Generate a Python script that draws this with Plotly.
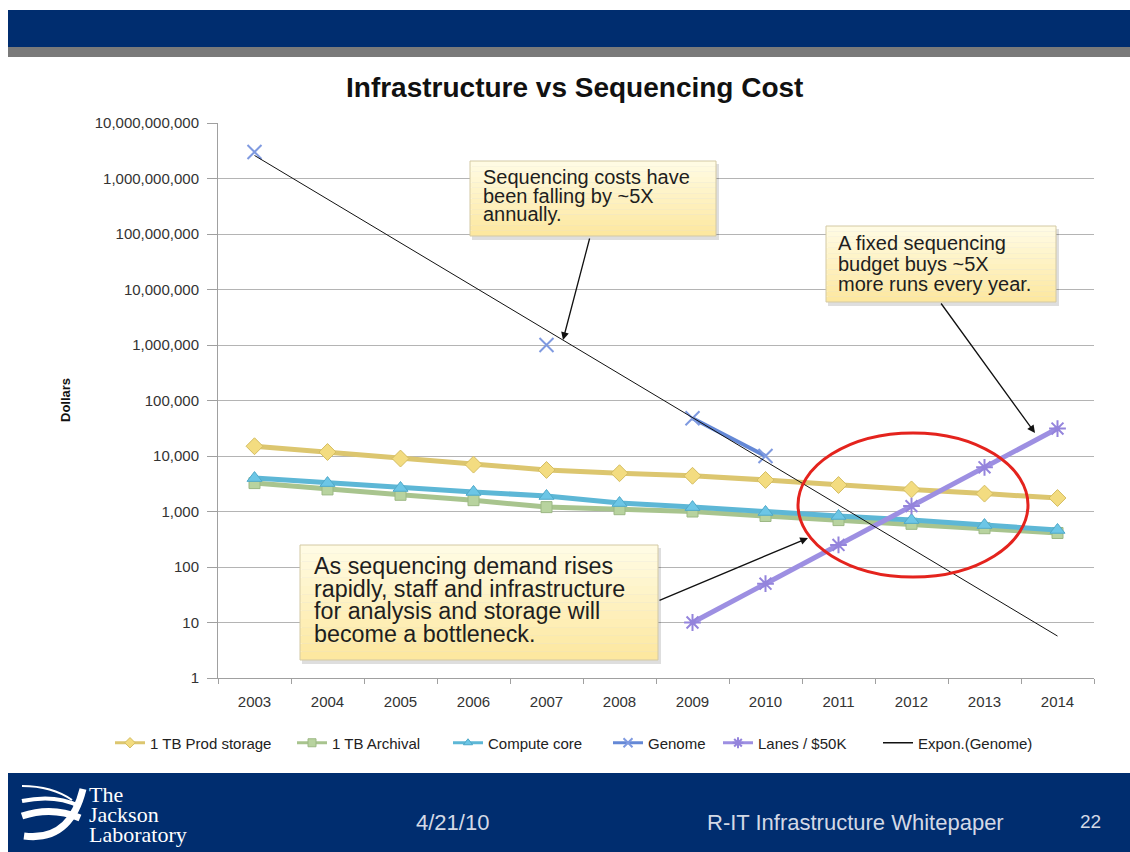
import plotly.graph_objects as go

# ---------------- data ----------------
years = ["2003", "2004", "2005", "2006", "2007", "2008", "2009", "2010", "2011", "2012", "2013", "2014"]
prod_storage = [15000, 11800, 9000, 7000, 5600, 4900, 4400, 3700, 3000, 2500, 2100, 1750]
archival = [3250, 2500, 2000, 1600, 1200, 1100, 1000, 830, 700, 600, 500, 410]
compute_core = [4000, 3250, 2650, 2250, 1900, 1420, 1200, 980, 830, 700, 570, 465]
genome = [3.0e9, None, None, None, 1.0e6, None, 48000, 10000, None, None, None, None]
lanes = [None, None, None, None, None, None, 10, 50, 250, 1250, 6250, 31250]
trend_years = ["2003", "2014"]
trend_values = [2.6e9, 5.7]
y_ticks = [1, 10, 100, 1000, 10000, 100000, 1000000, 10000000, 100000000, 1000000000, 10000000000]
y_ticktext = [f"{v:,}" for v in y_ticks]

# ---------------- geometry helpers (page pixel -> paper) ----------------
WID, HEI = 1130, 852
L, R, T, B = 218, 1094, 123, 678   # plot area in page pixels
PW, PH = R - L, B - T


def px(x):
    return (x - L) / PW


def py(y):
    return (B - y) / PH


FONT = "Liberation Sans, Arial, Helvetica, sans-serif"

series = [
    # name, values, line colour, line width, marker symbol, marker size, marker fill, marker edge
    ("1 TB Prod storage", prod_storage, "#dcc66f", 5, "diamond", 13, "#f3dc80", "#d4bd62", 1),
    ("1 TB Archival", archival, "#a8c48e", 5, "square", 11, "#b8d39f", "#9cb884", 1),
    ("Compute core", compute_core, "#5db7d6", 5, "triangle-up", 13, "#6cc6e6", "#4fa9c9", 1),
    ("Genome", genome, "#6488d6", 4, "x-thin-open", 14, "#7f9ae0", "#7f9ae0", 2),
    ("Lanes / $50K", lanes, "#9d8fe2", 5, "asterisk-open", 14, "#9484dc", "#9484dc", 2),
]

fig = go.Figure()
for i, (name, vals, lc, lw, sym, ms, mf, me, mew) in enumerate(series):
    fig.add_trace(go.Scatter(
        x=years, y=vals, name=name, mode="lines+markers", connectgaps=False, showlegend=False,
        line=dict(color=lc, width=lw),
        marker=dict(symbol=sym, size=ms, color=mf, line=dict(color=me, width=mew)),
    ))
fig.add_trace(go.Scatter(
    x=trend_years, y=trend_values, name="Expon.(Genome)", mode="lines", showlegend=False,
    line=dict(color="#111111", width=1),
))

# legend entries (compact symbols, as in the reference legend)
for i, (name, vals, lc, lw, sym, ms, mf, me, mew) in enumerate(series):
    key = "legend" if i == 0 else f"legend{i + 1}"
    fig.add_trace(go.Scatter(
        x=[None], y=[None], name=name, mode="lines+markers", legend=key, showlegend=True,
        line=dict(color=lc, width=3),
        marker=dict(symbol=sym, size=8 if mew == 1 else 9, color=mf, line=dict(color=me, width=mew)),
    ))
fig.add_trace(go.Scatter(
    x=[None], y=[None], name="Expon.(Genome)", mode="lines", legend="legend6", showlegend=True,
    line=dict(color="#111111", width=1.5),
))

shapes = []
annotations = []

# top banner
shapes.append(dict(type="rect", xref="paper", yref="paper", x0=px(8), x1=px(1135), y0=py(10), y1=py(47),
                   fillcolor="#002d6f", line=dict(width=0), layer="below"))
shapes.append(dict(type="rect", xref="paper", yref="paper", x0=px(8), x1=px(1135), y0=py(47), y1=py(57),
                   fillcolor="#7a7a7a", line=dict(width=0), layer="below"))
# footer banner
shapes.append(dict(type="rect", xref="paper", yref="paper", x0=px(8), x1=px(1135), y0=py(773), y1=py(860),
                   fillcolor="#002d6f", line=dict(width=0), layer="below"))


def lerp_color(c1, c2, t):
    a = [int(c1[i:i + 2], 16) for i in (1, 3, 5)]
    b = [int(c2[i:i + 2], 16) for i in (1, 3, 5)]
    return "#" + "".join(f"{int(round(a[k] + (b[k] - a[k]) * t)):02x}" for k in range(3))


def callout(x0, y0, x1, y1, lines, fsize, tx, ty0, dy):
    shapes.append(dict(type="rect", xref="paper", yref="paper", x0=px(x0 + 2), x1=px(x1 + 3),
                       y0=py(y1 + 4), y1=py(y0 + 3), fillcolor="rgba(0,0,0,0.13)", line=dict(width=0)))
    n = 14
    for i in range(n):
        ya = y0 + (y1 - y0) * i / n
        yb = y0 + (y1 - y0) * (i + 1) / n
        shapes.append(dict(type="rect", xref="paper", yref="paper", x0=px(x0), x1=px(x1),
                           y0=py(yb), y1=py(ya),
                           fillcolor=lerp_color("#fffbe3", "#fde8a0", i / (n - 1)), line=dict(width=0)))
    shapes.append(dict(type="rect", xref="paper", yref="paper", x0=px(x0), x1=px(x1), y0=py(y1), y1=py(y0),
                       fillcolor="rgba(0,0,0,0)", line=dict(color="#d3c9a4", width=1)))
    for k, t in enumerate(lines):
        annotations.append(dict(xref="paper", yref="paper", x=px(tx), y=py(ty0 + k * dy), text=t,
                                showarrow=False, xanchor="left", yanchor="middle",
                                font=dict(family=FONT, size=fsize, color="#1e1e1e")))


def arrow(tail, head):
    annotations.append(dict(xref="paper", yref="paper", x=px(head[0]), y=py(head[1]), text="",
                            showarrow=True, axref="pixel", ayref="pixel",
                            ax=tail[0] - head[0], ay=tail[1] - head[1],
                            arrowhead=2, arrowsize=1.2, arrowwidth=1.3, arrowcolor="#111111"))


callout(470, 161, 716, 236, ["Sequencing costs have", "been falling by ~5X", "annually."], 20, 481, 177, 18.5)
callout(826, 226, 1056, 302, ["A fixed sequencing", "budget buys ~5X", "more runs every year."], 20, 836, 243, 20.5)
callout(300, 545, 658, 660, ["As sequencing demand rises", "rapidly, staff and infrastructure",
                             "for analysis and storage will", "become a bottleneck."], 23.3, 312, 566, 22.5)

arrow((590, 237), (563, 340))
arrow((940, 302), (1035, 433))
arrow((658, 601), (808, 538))

# red ellipse
shapes.append(dict(type="circle", xref="paper", yref="paper", x0=px(798), x1=px(1028), y0=py(577), y1=py(433),
                   line=dict(color="#e4231d", width=3), fillcolor="rgba(0,0,0,0)"))


# logo swoosh
def path_pts(pts):
    s = f"M {px(pts[0][0])},{py(pts[0][1])}"
    s += f" Q {px(pts[1][0])},{py(pts[1][1])} {px(pts[2][0])},{py(pts[2][1])}"
    return s


for pts, w in [
    ([(22, 786), (52, 786), (72, 800)], 2),
    ([(22, 801), (55, 794), (79, 806)], 4),
    ([(22, 816), (52, 806), (80, 818)], 7),
    ([(24, 836), (70, 842), (83, 789)], 7),
]:
    shapes.append(dict(type="path", xref="paper", yref="paper", path=path_pts(pts),
                       line=dict(color="white", width=w)))

for t, yy in [("The", 794), ("Jackson", 814), ("Laboratory", 834)]:
    annotations.append(dict(xref="paper", yref="paper", x=px(87), y=py(yy), text=t, showarrow=False,
                            xanchor="left", yanchor="middle",
                            font=dict(family="Liberation Serif, Times New Roman, serif", size=22, color="white")))

# footer texts
FOOT = "#d3d9e6"
annotations.append(dict(xref="paper", yref="paper", x=px(452), y=py(822), text="4/21/10", showarrow=False,
                        xanchor="center", yanchor="middle", font=dict(family=FONT, size=22, color=FOOT)))
annotations.append(dict(xref="paper", yref="paper", x=px(855), y=py(822), text="R-IT Infrastructure Whitepaper",
                        showarrow=False, xanchor="center", yanchor="middle",
                        font=dict(family=FONT, size=22, color=FOOT)))
annotations.append(dict(xref="paper", yref="paper", x=px(1090), y=py(821), text="22", showarrow=False,
                        xanchor="center", yanchor="middle", font=dict(family=FONT, size=19, color=FOOT)))

# chart title and axis title
annotations.append(dict(xref="paper", yref="paper", x=px(574), y=py(88), text="<b>Infrastructure vs Sequencing Cost</b>",
                        showarrow=False, xanchor="center", yanchor="middle",
                        font=dict(family=FONT, size=28, color="#111111")))
annotations.append(dict(xref="paper", yref="paper", x=px(65), y=py(400), text="<b>Dollars</b>", textangle=-90,
                        showarrow=False, xanchor="center", yanchor="middle",
                        font=dict(family=FONT, size=13, color="#111111")))

# legends: one per series so each entry sits where the reference shows it
legend_text_x = [150, 332, 488, 648, 758, 918]
legends = {}
for i, tx in enumerate(legend_text_x):
    key = "legend" if i == 0 else f"legend{i + 1}"
    legends[key] = dict(orientation="h", x=px(tx - 40), y=py(743), xanchor="left", yanchor="middle",
                        font=dict(family=FONT, size=15, color="#222222"), bgcolor="rgba(0,0,0,0)",
                        itemsizing="trace", itemwidth=30)

fig.update_layout(
    width=WID, height=HEI, autosize=False,
    margin=dict(l=L, r=WID - R, t=T, b=HEI - B, pad=0),
    paper_bgcolor="white", plot_bgcolor="white",
    font=dict(family=FONT, size=15, color="#333333"),
    showlegend=True,
    hovermode=False,
    shapes=shapes,
    annotations=annotations,
    xaxis=dict(type="category", categoryorder="array", categoryarray=years,
               range=[-0.5, 11.5], showgrid=False, showline=True, linecolor="#a0a0a0", linewidth=1,
               ticks="outside", tickson="boundaries", ticklen=5, tickcolor="#a0a0a0", ticklabelstandoff=10,
               tickfont=dict(family=FONT, size=15, color="#333333"), zeroline=False, fixedrange=True),
    yaxis=dict(type="log", range=[0, 10], tickvals=y_ticks, ticktext=y_ticktext,
               showgrid=True, gridcolor="#b4b4b4", gridwidth=1, showline=True, linecolor="#a0a0a0",
               ticks="outside", ticklen=10, tickcolor="#a0a0a0", ticklabelstandoff=5,
               tickfont=dict(family=FONT, size=15, color="#333333"), zeroline=False, fixedrange=True),
    **legends,
)

fig.write_html("out.html", config={"displayModeBar": False, "staticPlot": True},
               post_script="document.body.style.margin='0';document.body.style.overflow='hidden';")
